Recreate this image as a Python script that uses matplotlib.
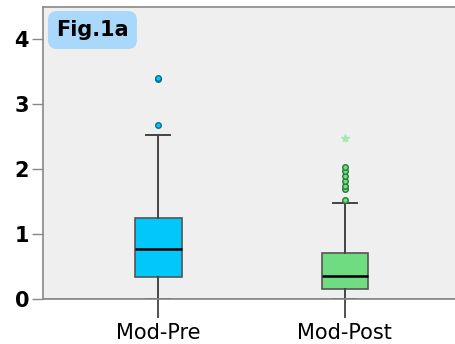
import matplotlib.pyplot as plt
from matplotlib.patches import FancyBboxPatch

# Five-number summaries for the two groups
groups = ['Mod-Pre', 'Mod-Post']
whislo = [0.0, 0.0]
q1 = [0.34, 0.16]
med = [0.77, 0.35]
q3 = [1.24, 0.70]
whishi = [2.52, 1.47]
pre_outliers = [3.38, 3.40, 2.67]
post_outliers = [1.52, 1.69, 1.74, 1.82, 1.89, 1.97, 2.03]
post_extremes = [2.48]

box_colors = ['#00c8fb', '#6fdc82']
edge_colors = ['#0a6f8c', '#2a7a38']

stats = []
for i, name in enumerate(groups):
    stats.append({'label': name, 'whislo': whislo[i], 'q1': q1[i], 'med': med[i],
                  'q3': q3[i], 'whishi': whishi[i], 'fliers': []})

fig = plt.figure(figsize=(4.55, 3.44), dpi=100)
ax = fig.add_axes([0.0945, 0.1308, 0.9055, 0.849])
ax.set_facecolor('#efefef')

bp = ax.bxp(stats, positions=[1, 2], widths=0.25, patch_artist=True,
            showfliers=False,
            boxprops=dict(edgecolor='#555555', linewidth=1.2),
            whiskerprops=dict(color='#444444', linewidth=1.4),
            capprops=dict(color='#444444', linewidth=1.4),
            medianprops=dict(color='black', linewidth=1.8))
for patch, c in zip(bp['boxes'], box_colors):
    patch.set_facecolor(c)
for cap in bp['caps']:
    x0, x1 = cap.get_xdata()
    mid = (x0 + x1) / 2
    cap.set_xdata([mid - 0.065, mid + 0.065])

ax.plot([1] * len(pre_outliers), pre_outliers, 'o', ms=4, mfc=box_colors[0],
        mec=edge_colors[0], mew=1)
ax.plot([2] * len(post_outliers), post_outliers, 'o', ms=4, mfc=box_colors[1],
        mec=edge_colors[1], mew=1)
ax.plot([2] * len(post_extremes), post_extremes, '*', ms=6, color='#a6e8b0')

ax.set_xlim(0.383, 2.59)
ax.set_ylim(0, 4.49)
ax.set_yticks([0, 1, 2, 3, 4])
ax.set_yticklabels(['0', '1', '2', '3', '4'], fontsize=15, fontweight='bold')
ax.set_xticks([1, 2])
ax.set_xticklabels(groups, fontsize=15)
ax.tick_params(axis='y', length=8, width=1, color='#888888', pad=2)
ax.tick_params(axis='x', length=14, width=1.3, color='#444444', pad=3)
for s in ax.spines.values():
    s.set_color('#888888')
    s.set_linewidth(1.2)
ax.spines['right'].set_visible(False)
ax.axhline(0, color='#888888', lw=1.2, zorder=0.5)

# rounded label badge in the top-left corner
aspect = (0.9055 * 455) / (0.849 * 344)
badge = FancyBboxPatch((0.012, 0.856), 0.216, 0.13, transform=ax.transAxes,
                       boxstyle='round,pad=0,rounding_size=0.022',
                       fc='#a9d8fb', ec='none', mutation_aspect=aspect)
ax.add_patch(badge)
ax.text(0.12, 0.921, 'Fig.1a', transform=ax.transAxes, ha='center', va='center',
        fontsize=15, fontweight='bold')

fig.savefig('out.png', dpi=100, facecolor='white')
